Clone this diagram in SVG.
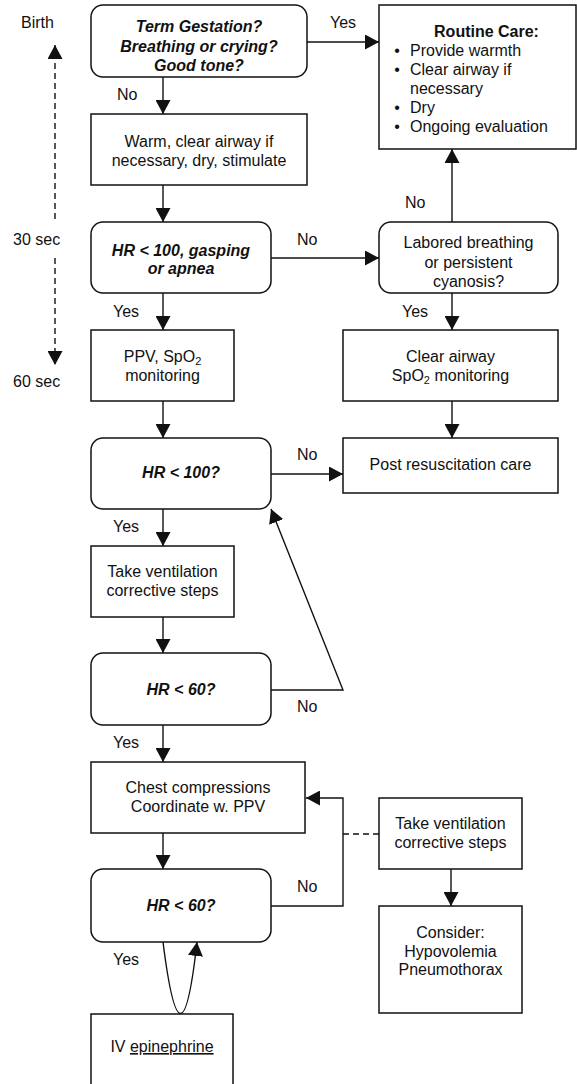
<svg xmlns="http://www.w3.org/2000/svg" width="577" height="1084" viewBox="0 0 577 1084">
  <defs>
    <marker id="arrow" markerUnits="userSpaceOnUse" markerWidth="14" markerHeight="15" refX="14" refY="7.5" orient="auto">
      <path d="M0,0 L14,7.5 L0,15 z" fill="#111"/>
    </marker>
    <style>
      .box { fill: #fff; stroke: #111; stroke-width: 1.5; }
      .conn { fill: none; stroke: #111; stroke-width: 1.4; }
      .dash { fill: none; stroke: #111; stroke-width: 1.4; stroke-dasharray: 6 4; }
      text { font-family: "Liberation Sans", Arial, sans-serif; font-size: 16px; fill: #111; }
      .c { text-anchor: middle; }
      .q { font-weight: bold; font-style: italic; }
      .b { font-weight: bold; }
    </style>
  </defs>

  <!-- timeline on the left -->
  <g id="timeline">
    <text x="21" y="28">Birth</text>
    <text x="13" y="245">30 sec</text>
    <text x="13" y="387">60 sec</text>
    <path class="dash" d="M55,219 L55,45" marker-end="url(#arrow)"/>
    <path class="dash" d="M55,258 L55,365" marker-end="url(#arrow)"/>
  </g>

  <!-- connectors -->
  <g id="connectors">
    <path class="conn" d="M163,77 L163,114" marker-end="url(#arrow)"/>
    <path class="conn" d="M307,42 L379,42" marker-end="url(#arrow)"/>
    <path class="conn" d="M163,185 L163,222" marker-end="url(#arrow)"/>
    <path class="conn" d="M271,258 L379,258" marker-end="url(#arrow)"/>
    <path class="conn" d="M452,222 L452,149" marker-end="url(#arrow)"/>
    <path class="conn" d="M163,293 L163,330" marker-end="url(#arrow)"/>
    <path class="conn" d="M452,293 L452,330" marker-end="url(#arrow)"/>
    <path class="conn" d="M163,401 L163,438" marker-end="url(#arrow)"/>
    <path class="conn" d="M452,401 L452,438" marker-end="url(#arrow)"/>
    <path class="conn" d="M271,474 L343,474" marker-end="url(#arrow)"/>
    <path class="conn" d="M163,509 L163,546" marker-end="url(#arrow)"/>
    <path class="conn" d="M163,617 L163,653" marker-end="url(#arrow)"/>
    <path class="conn" d="M271,690 L343,690 L271,509" marker-end="url(#arrow)"/>
    <path class="conn" d="M163,725 L163,762" marker-end="url(#arrow)"/>
    <path class="conn" d="M163,833 L163,869" marker-end="url(#arrow)"/>
    <path class="conn" d="M271,906 L343,906 L343,798 L306,798" marker-end="url(#arrow)"/>
    <path class="dash" d="M343,834 L379,834" stroke-dasharray="5 4"/>
    <path class="conn" d="M451,869 L451,906" marker-end="url(#arrow)"/>
    <path class="conn" d="M163,942 Q181,1085 197,942" marker-end="url(#arrow)"/>

    <text x="330" y="28">Yes</text>
    <text x="117" y="100">No</text>
    <text x="297" y="245">No</text>
    <text x="405" y="208">No</text>
    <text x="113" y="317">Yes</text>
    <text x="402" y="317">Yes</text>
    <text x="297" y="460">No</text>
    <text x="113" y="532">Yes</text>
    <text x="297" y="712">No</text>
    <text x="113" y="748">Yes</text>
    <text x="297" y="892">No</text>
    <text x="113" y="965">Yes</text>
  </g>

  <g id="assess">
    <rect class="box" x="91" y="5" width="216" height="72" rx="12"/>
    <text class="c q" x="199" y="32">Term Gestation?</text>
    <text class="c q" x="199" y="51.5">Breathing or crying?</text>
    <text class="c q" x="199" y="71">Good tone?</text>
  </g>

  <g id="routine-care">
    <rect class="box" x="379" y="5" width="197" height="144"/>
    <text class="c b" x="486.5" y="37">Routine Care:</text>
    <text x="397" y="56" text-anchor="middle">•</text>
    <text x="410" y="56">Provide warmth</text>
    <text x="397" y="75" text-anchor="middle">•</text>
    <text x="410" y="75">Clear airway if</text>
    <text x="410" y="94">necessary</text>
    <text x="397" y="113" text-anchor="middle">•</text>
    <text x="410" y="113">Dry</text>
    <text x="397" y="132" text-anchor="middle">•</text>
    <text x="410" y="132">Ongoing evaluation</text>
  </g>

  <g id="initial-steps">
    <rect class="box" x="91" y="114" width="216" height="71"/>
    <text class="c" x="199" y="147">Warm, clear airway if</text>
    <text class="c" x="199" y="166">necessary, dry, stimulate</text>
  </g>

  <g id="hr-gasping">
    <rect class="box" x="91" y="222" width="180" height="71" rx="12"/>
    <text class="c q" x="181" y="256">HR &lt; 100, gasping</text>
    <text class="c q" x="181" y="274">or apnea</text>
  </g>

  <g id="labored">
    <rect class="box" x="379" y="222" width="179" height="71" rx="12"/>
    <text class="c" x="468.5" y="248">Labored breathing</text>
    <text class="c" x="468.5" y="267.5">or persistent</text>
    <text class="c" x="468.5" y="287">cyanosis?</text>
  </g>

  <g id="ppv">
    <rect class="box" x="91" y="330" width="143" height="71"/>
    <text class="c" x="162.5" y="362">PPV, SpO<tspan font-size="11" dy="3">2</tspan></text>
    <text class="c" x="162.5" y="381">monitoring</text>
  </g>

  <g id="clear-airway">
    <rect class="box" x="343" y="330" width="215" height="71"/>
    <text class="c" x="450.5" y="362">Clear airway</text>
    <text class="c" x="450.5" y="381">SpO<tspan font-size="11" dy="3">2</tspan><tspan dy="-3"> monitoring</tspan></text>
  </g>

  <g id="hr-100">
    <rect class="box" x="91" y="438" width="180" height="71" rx="12"/>
    <text class="c q" x="181" y="478">HR &lt; 100?</text>
  </g>

  <g id="post-care">
    <rect class="box" x="343" y="438" width="215" height="55"/>
    <text class="c" x="450.5" y="470">Post resuscitation care</text>
  </g>

  <g id="ventilation-1">
    <rect class="box" x="91" y="546" width="143" height="71"/>
    <text class="c" x="162.5" y="577">Take ventilation</text>
    <text class="c" x="162.5" y="596">corrective steps</text>
  </g>

  <g id="hr-60-a">
    <rect class="box" x="91" y="653" width="180" height="72" rx="12"/>
    <text class="c q" x="181" y="695">HR &lt; 60?</text>
  </g>

  <g id="compressions">
    <rect class="box" x="91" y="762" width="214" height="71"/>
    <text class="c" x="198" y="793">Chest compressions</text>
    <text class="c" x="198" y="812">Coordinate w. PPV</text>
  </g>

  <g id="ventilation-2">
    <rect class="box" x="379" y="798" width="143" height="71"/>
    <text class="c" x="450.5" y="829">Take ventilation</text>
    <text class="c" x="450.5" y="848">corrective steps</text>
  </g>

  <g id="hr-60-b">
    <rect class="box" x="91" y="869" width="180" height="73" rx="12"/>
    <text class="c q" x="181" y="911">HR &lt; 60?</text>
  </g>

  <g id="consider">
    <rect class="box" x="379" y="906" width="143" height="107"/>
    <text class="c" x="450.5" y="938">Consider:</text>
    <text class="c" x="450.5" y="956.5">Hypovolemia</text>
    <text class="c" x="450.5" y="975">Pneumothorax</text>
  </g>

  <g id="epinephrine">
    <rect class="box" x="91" y="1014" width="142" height="90"/>
    <text class="c" x="162" y="1052">IV <tspan text-decoration="underline">epinephrine</tspan></text>
  </g>
</svg>
